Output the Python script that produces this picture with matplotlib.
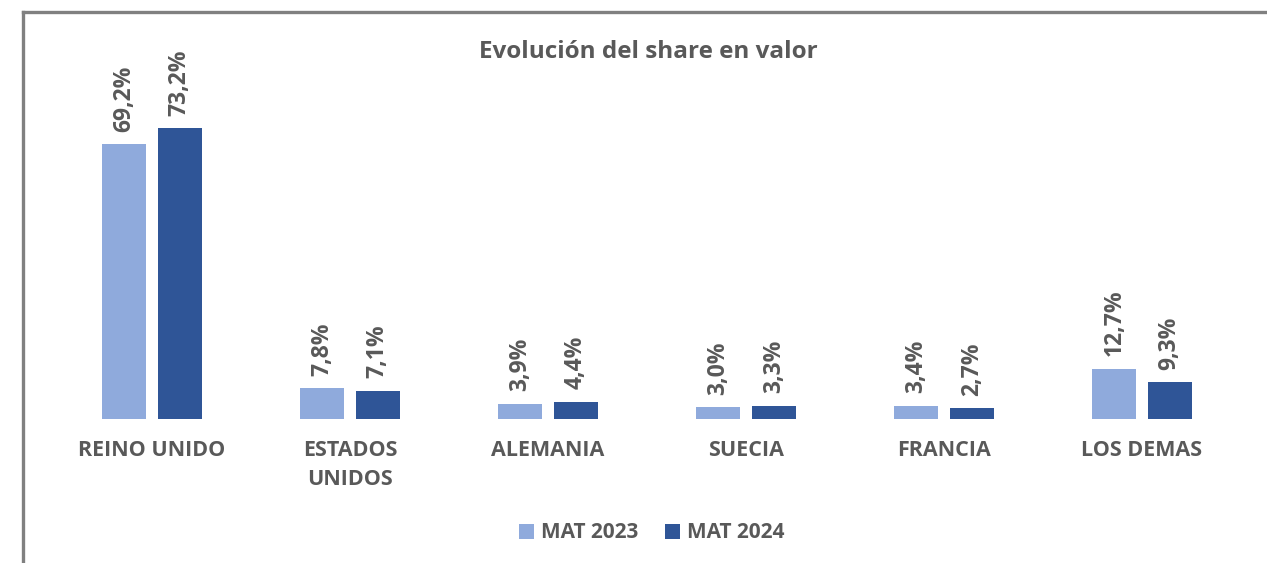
import numpy as np
import matplotlib.pyplot as plt
from matplotlib.lines import Line2D

categorias = ['REINO UNIDO', 'ESTADOS\nUNIDOS', 'ALEMANIA', 'SUECIA', 'FRANCIA', 'LOS DEMAS']
mat_2023 = [69.2, 7.8, 3.9, 3.0, 3.4, 12.7]
mat_2024 = [73.2, 7.1, 4.4, 3.3, 2.7, 9.3]
series = ['MAT 2023', 'MAT 2024']

def main():
	plt.rcParams['font.family'] = ['Open Sans', 'DejaVu Sans']
	W, H = 1267, 563
	fig = plt.figure(figsize=(W/100, H/100), dpi=100)

	# axes placed in pixel terms
	ax = fig.add_axes([53/W, (H-419)/H, (1241-53)/W, 317.6/H])

	gris = '#595959'
	colores = ['#8FAADC', '#2F5597']
	x = np.arange(len(categorias))
	w = 0.222
	off = 0.14

	for vals, col, lab, dx in zip([mat_2023, mat_2024], colores, series, [-off, off]):
		bars = ax.bar(x + dx, vals, width=w, color=col, label=lab)
		for b, v in zip(bars, vals):
			ax.annotate(f'{v:.1f}%'.replace('.', ','), (b.get_x() + b.get_width()/2, v),
				xytext=(0, 9), textcoords='offset points', rotation=90,
				ha='center', va='bottom', fontsize=16.5, fontweight='bold', color=gris)

	ax.set_xlim(-0.5, len(categorias) - 0.5)
	ax.set_ylim(0, 80)
	ax.set_yticks([])
	ax.set_xticks(x)
	ax.set_xticklabels(categorias, fontsize=15.5, fontweight='bold', color=gris, linespacing=1.5)
	ax.tick_params(axis='x', length=0, pad=15)
	for s in ax.spines.values():
		s.set_visible(False)

	fig.text(648/W, 1 - 52/H, 'Evolución del share en valor', ha='center', va='center',
		fontsize=17.5, fontweight='bold', color=gris)

	leg = fig.legend(loc='center', bbox_to_anchor=(652/W, 1 - 533/H), ncol=2, frameon=False,
		handlelength=0.7, handleheight=0.7, handletextpad=0.35, columnspacing=1.3,
		prop={'size': 15, 'weight': 'bold'})
	for t in leg.get_texts():
		t.set_color(gris)

	# outer frame (top and left only visible)
	fig.add_artist(Line2D([23/W, 1], [1 - 12/H, 1 - 12/H], color='#808080', lw=2.4, transform=fig.transFigure))
	fig.add_artist(Line2D([23/W, 23/W], [0, 1 - 12/H], color='#808080', lw=2.4, transform=fig.transFigure))

	fig.savefig('out.png', dpi=100)

if __name__ == '__main__': main()
